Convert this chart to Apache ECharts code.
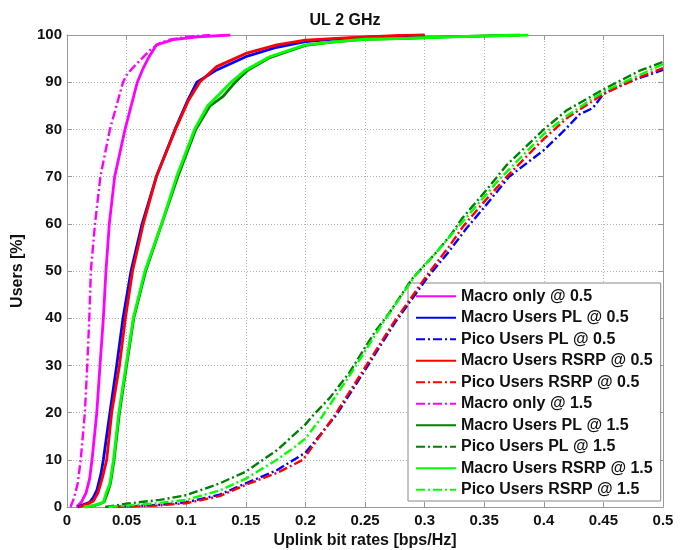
<!DOCTYPE html>
<html>
<head>
<meta charset="utf-8">
<script src="https://cdn.jsdelivr.net/npm/echarts@6/dist/echarts.min.js"></script>
<style>
html,body{margin:0;padding:0;background:#fff;}
#chart{width:690px;height:550px;}
</style>
</head>
<body>
<div id="chart"></div>
<script>
// ---- data: [bit rate (bps/Hz), users (%)] ----
var seriesNames = [
  'Macro only @ 0.5','Macro Users PL @ 0.5','Pico Users PL @ 0.5',
  'Macro Users RSRP @ 0.5','Pico Users RSRP @ 0.5','Macro only @ 1.5',
  'Macro Users PL @ 1.5','Pico Users PL @ 1.5','Macro Users RSRP @ 1.5',
  'Pico Users RSRP @ 1.5'
];
var xTicks = [0,0.05,0.1,0.15,0.2,0.25,0.3,0.35,0.4,0.45,0.5];
var yTicks = [0,10,20,30,40,50,60,70,80,90,100];

var macroOnly05 = [[0.008,0],[0.012,1],[0.016,3],[0.019,6],[0.021,10],[0.025,20],[0.0277,30],[0.0305,40],[0.0327,50],[0.0355,60],[0.040,70],[0.0487,80],[0.059,90],[0.064,93],[0.068,95],[0.075,97.9],[0.089,99],[0.11,99.6],[0.137,100]];
var macroPL05 = [[0.009,0],[0.014,0.5],[0.019,1],[0.022,2],[0.025,3.5],[0.0285,7],[0.0305,10],[0.036,20],[0.0417,30],[0.047,40],[0.0537,50],[0.063,60],[0.075,70],[0.0906,80],[0.101,86],[0.109,90],[0.1256,92.6],[0.15,95.4],[0.176,97.4],[0.2,98.6],[0.226,99.2],[0.25,99.5],[0.28,99.8],[0.3,100]];
var picoPL05 = [[0.038,0],[0.075,0.4],[0.1,1],[0.128,2.6],[0.15,5],[0.176,7.8],[0.2,11.5],[0.226,19.5],[0.25,29],[0.275,39],[0.302,48.5],[0.32,54],[0.335,59],[0.35,63.5],[0.371,70],[0.4,75.6],[0.418,80],[0.43,83.2],[0.441,84.5],[0.45,87.5],[0.47,90],[0.5,92.6]];
var macroRSRP05 = [[0.010,0],[0.016,0.5],[0.022,1.2],[0.026,3],[0.03,6.5],[0.0333,10],[0.0375,20],[0.044,30],[0.049,40],[0.055,50],[0.064,60],[0.075,70],[0.091,80],[0.102,86.2],[0.1116,90.1],[0.1256,93.3],[0.15,96.1],[0.176,97.9],[0.2,98.9],[0.226,99.3],[0.25,99.6],[0.28,99.9],[0.3,100]];
var picoRSRP05 = [[0.04,0],[0.075,0.3],[0.1,0.8],[0.128,2.3],[0.15,4.7],[0.176,7.2],[0.198,10],[0.2248,19.5],[0.2486,29],[0.2738,39],[0.3017,49],[0.32,55],[0.3325,59.5],[0.35,64.7],[0.369,70],[0.4,78],[0.42,82.5],[0.45,87.5],[0.48,91],[0.5,93]];
var macroOnly15 = [[0.003,0],[0.006,2],[0.009,5],[0.0115,10],[0.015,20],[0.017,30],[0.0187,40],[0.020,50],[0.0235,60],[0.028,70],[0.036,80],[0.047,90],[0.05,91.5],[0.055,93],[0.0696,96.8],[0.078,98.3],[0.086,99],[0.1,99.6],[0.12,100]];
var macroPL15 = [[0.015,0],[0.023,0.3],[0.031,1],[0.034,3],[0.0365,5],[0.0395,10],[0.044,20],[0.05,30],[0.056,40],[0.066,50],[0.0795,60],[0.093,70],[0.108,80],[0.12,85],[0.131,87],[0.139,89.4],[0.146,91.2],[0.152,92.6],[0.17,95.2],[0.2,97.8],[0.226,98.6],[0.25,99.1],[0.285,99.3],[0.32,99.6],[0.38,100]];
var picoPL15 = [[0.032,0],[0.05,0.7],[0.078,1.5],[0.1,2.5],[0.128,5],[0.15,7.5],[0.176,12],[0.2,17.5],[0.2067,19.5],[0.22,23],[0.237,28.5],[0.258,37],[0.27,41],[0.29,48.5],[0.31,54],[0.323,58],[0.331,61],[0.35,66.6],[0.369,72.5],[0.4,80],[0.419,84],[0.45,88.5],[0.481,92.5],[0.5,94.3]];
var macroRSRP15 = [[0.014,0],[0.022,0.3],[0.0305,1],[0.033,3],[0.036,5],[0.039,10],[0.0435,20],[0.0495,30],[0.0556,40],[0.0654,50],[0.0794,60],[0.092,70],[0.107,80],[0.118,85],[0.128,87.5],[0.138,90.1],[0.15,92.6],[0.17,95.4],[0.2,97.9],[0.226,98.6],[0.25,99.1],[0.285,99.3],[0.32,99.6],[0.387,100]];
var picoRSRP15 = [[0.035,0],[0.05,0.3],[0.075,0.8],[0.1,1.5],[0.128,3.5],[0.15,6],[0.176,10],[0.19,12.5],[0.2,14.5],[0.2136,19],[0.24,29],[0.265,39],[0.292,49],[0.31,54],[0.327,59],[0.35,65.7],[0.363,69.5],[0.4,79],[0.42,83],[0.45,88],[0.48,91.5],[0.5,93.8]];

var seriesData = [macroOnly05, macroPL05, picoPL05, macroRSRP05, picoRSRP05,
                  macroOnly15, macroPL15, picoPL15, macroRSRP15, picoRSRP15];
var seriesColors = ['#ff00ff','#0000ff','#0000ff','#ff0000','#ff0000',
                    '#ff00ff','#007f00','#007f00','#00ff00','#00ff00'];
var seriesDashed = [false,false,true,false,true,true,false,true,false,true];

var dashDot = [9,3,2,3];
var series = seriesNames.map(function(n,i){
  return {
    name: n, type: 'line', data: seriesData[i],
    xAxisIndex: 0, yAxisIndex: 0,
    showSymbol: false, symbol: 'none', smooth: false,
    lineStyle: { color: seriesColors[i], width: seriesDashed[i] ? 2.4 : 2.8,
                 type: seriesDashed[i] ? dashDot : 'solid' },
    itemStyle: { color: seriesColors[i] },
    z: 2 + i
  };
});

var boxColor = '#999999';
var fontFam = 'Liberation Sans, Arial, Helvetica, sans-serif';
var chart = echarts.init(document.getElementById('chart'), null, {renderer:'canvas'});
chart.setOption({
  animation: false,
  backgroundColor: '#ffffff',
  title: {
    text: 'UL 2 GHz', left: 'center', top: 8,
    textStyle: { fontFamily: fontFam, fontSize: 16, fontWeight: 'bold', color: '#111' }
  },
  grid: { left: 67, right: 27, top: 35, bottom: 43, containLabel: false, outerBoundsMode: 'none' },
  legend: {
    data: seriesNames, orient: 'vertical', left: 408, top: 283,
    padding: [5, 8, 3, 7], itemGap: 5, itemWidth: 40, itemHeight: 14,
    backgroundColor: '#ffffff', borderColor: '#888888', borderWidth: 1,
    itemStyle: { opacity: 0 },
    textStyle: { fontFamily: fontFam, fontSize: 16, fontWeight: 'bold', color: '#111', lineHeight: 16.5 },
    selectedMode: false
  },
  xAxis: [{
    type: 'value', min: 0, max: 0.5, interval: 0.05,
    name: 'Uplink bit rates [bps/Hz]', nameLocation: 'middle', nameGap: 25,
    nameTextStyle: { fontFamily: fontFam, fontSize: 16, fontWeight: 'bold', color: '#111' },
    axisLine: { show: true, onZero: false, lineStyle: { color: boxColor, width: 1 } },
    axisTick: { show: true, inside: true, length: 5, lineStyle: { color: boxColor } },
    axisLabel: { fontFamily: fontFam, fontSize: 15, fontWeight: 'bold', color: '#111', margin: 6,
      formatter: function(v){ return String(+v.toFixed(2)); } },
    splitLine: { show: true, lineStyle: { color: '#b4b4b4', type: [1,2], width: 1 } }
  },{
    type: 'value', min: 0, max: 0.5, interval: 0.05, position: 'top',
    axisLine: { show: true, onZero: false, lineStyle: { color: boxColor, width: 1 } },
    axisTick: { show: true, inside: true, length: 5, lineStyle: { color: boxColor } },
    axisLabel: { show: false }, splitLine: { show: false }
  }],
  yAxis: [{
    type: 'value', min: 0, max: 100, interval: 10,
    name: 'Users [%]', nameLocation: 'middle', nameGap: 33,
    nameTextStyle: { fontFamily: fontFam, fontSize: 16, fontWeight: 'bold', color: '#111' },
    axisLine: { show: true, onZero: false, lineStyle: { color: boxColor, width: 1 } },
    axisTick: { show: true, inside: true, length: 5, lineStyle: { color: boxColor } },
    axisLabel: { fontFamily: fontFam, fontSize: 15, fontWeight: 'bold', color: '#111', margin: 5 },
    splitLine: { show: true, lineStyle: { color: '#b4b4b4', type: [1,2], width: 1 } }
  },{
    type: 'value', min: 0, max: 100, interval: 10, position: 'right',
    axisLine: { show: true, onZero: false, lineStyle: { color: boxColor, width: 1 } },
    axisTick: { show: true, inside: true, length: 5, lineStyle: { color: boxColor } },
    axisLabel: { show: false }, splitLine: { show: false }
  }],
  series: series
});
</script>
</body>
</html>
